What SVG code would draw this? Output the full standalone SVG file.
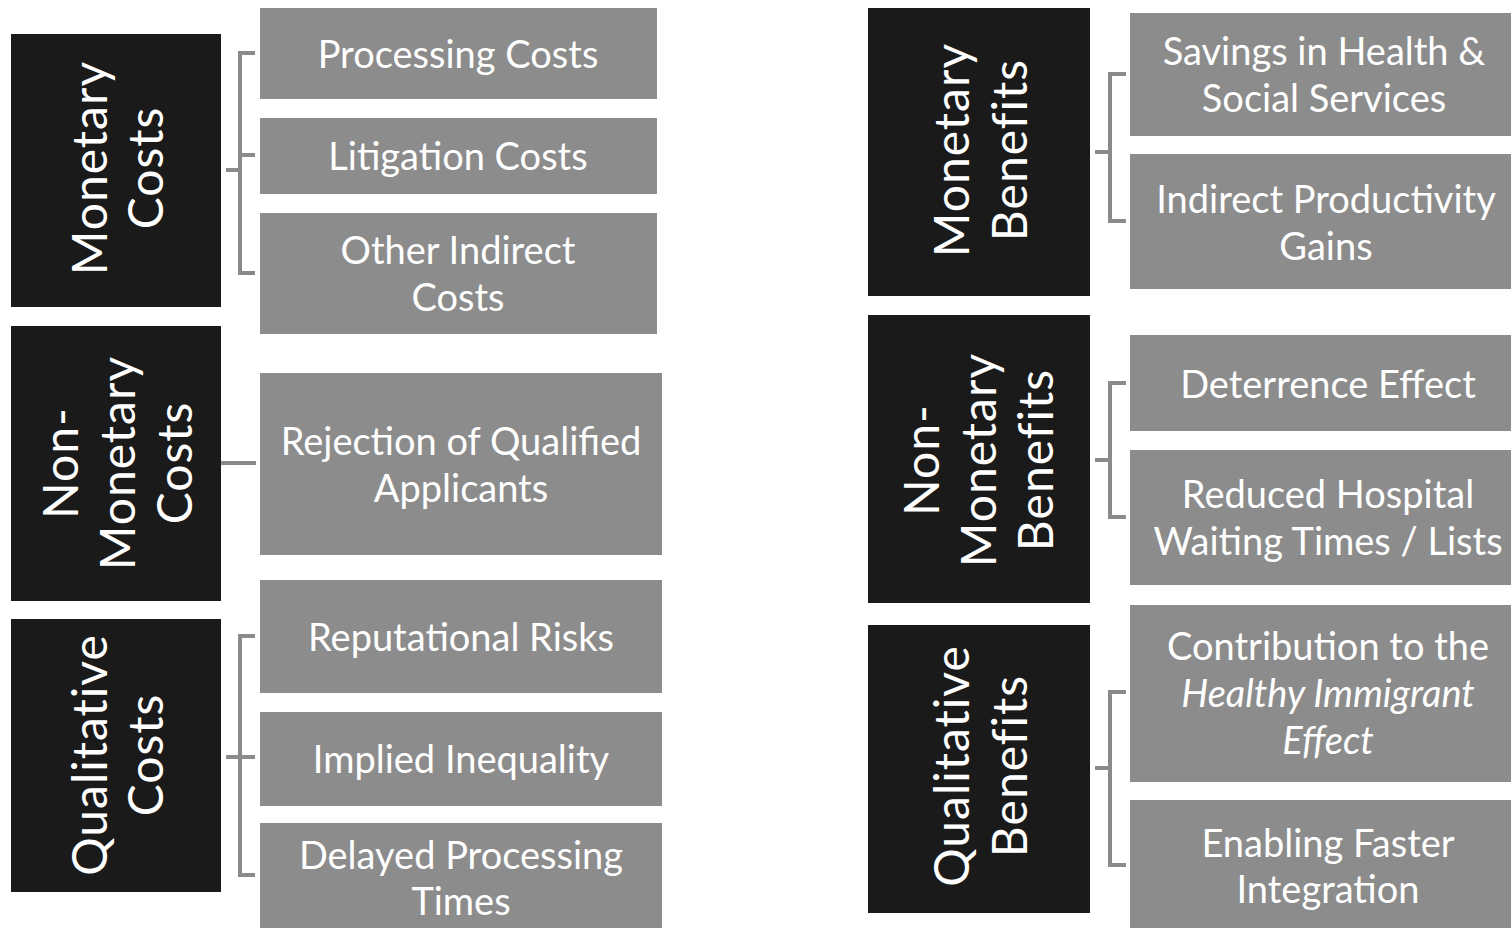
<svg xmlns="http://www.w3.org/2000/svg" width="1511" height="928" viewBox="0 0 1511 928">
  <style>
    .cat { fill: #1a1a1a; }
    .item { fill: #8c8c8c; }
    .cat-t { fill: #ffffff; font-family: Lato, "Open Sans", sans-serif; font-size: 48px; letter-spacing: 1px; text-anchor: middle; dominant-baseline: central; }
    .item-t { fill: #ffffff; font-family: Lato, "Open Sans", sans-serif; font-size: 38px; text-anchor: middle; dominant-baseline: central; }
    .link { fill: none; stroke: #8a8a8a; stroke-width: 4; }
    .it { font-style: italic; }
  </style>

  <!-- connectors -->
  <g id="connectors">
    <path class="link" d="M255,53 H240 V273 H255 M240,155 H255 M226,170 H240"/>
    <path class="link" d="M221,463 H256"/>
    <path class="link" d="M255,636 H240 V875 H255 M226,757 H255"/>
    <path class="link" d="M1126,74 H1110 V221 H1126 M1095,152 H1110"/>
    <path class="link" d="M1126,383 H1110 V517 H1126 M1095,460 H1110"/>
    <path class="link" d="M1126,692 H1110 V865 H1126 M1095,768 H1110"/>
  </g>

  <!-- cost categories -->
  <g id="monetary-costs">
    <rect class="cat" x="11" y="34" width="210" height="273"/>
    <text class="cat-t" transform="translate(116,168) rotate(-90)"><tspan x="0" y="-28">Monetary</tspan><tspan x="0" y="28">Costs</tspan></text>
  </g>
  <g id="non-monetary-costs">
    <rect class="cat" x="11" y="326" width="210" height="275"/>
    <text class="cat-t" transform="translate(116,463) rotate(-90)"><tspan x="0" y="-57">Non-</tspan><tspan x="0" y="0">Monetary</tspan><tspan x="0" y="57">Costs</tspan></text>
  </g>
  <g id="qualitative-costs">
    <rect class="cat" x="11" y="619" width="210" height="273"/>
    <text class="cat-t" transform="translate(116,755) rotate(-90)"><tspan x="0" y="-28">Qualitative</tspan><tspan x="0" y="28">Costs</tspan></text>
  </g>

  <!-- cost items -->
  <g id="processing-costs">
    <rect class="item" x="260" y="8" width="397" height="91"/>
    <text class="item-t" x="458" y="53">Processing Costs</text>
  </g>
  <g id="litigation-costs">
    <rect class="item" x="260" y="118" width="397" height="76"/>
    <text class="item-t" x="458" y="155">Litigation Costs</text>
  </g>
  <g id="other-indirect-costs">
    <rect class="item" x="260" y="213" width="397" height="121"/>
    <text class="item-t" x="458"><tspan x="458" y="249">Other Indirect</tspan><tspan x="458" y="296">Costs</tspan></text>
  </g>
  <g id="rejection">
    <rect class="item" x="260" y="373" width="402" height="182"/>
    <text class="item-t"><tspan x="461" y="440">Rejection of Qualified</tspan><tspan x="461" y="487">Applicants</tspan></text>
  </g>
  <g id="reputational-risks">
    <rect class="item" x="260" y="580" width="402" height="113"/>
    <text class="item-t" x="461" y="636">Reputational Risks</text>
  </g>
  <g id="implied-inequality">
    <rect class="item" x="260" y="712" width="402" height="94"/>
    <text class="item-t" x="461" y="758">Implied Inequality</text>
  </g>
  <g id="delayed-processing">
    <rect class="item" x="260" y="823" width="402" height="105"/>
    <text class="item-t"><tspan x="461" y="854">Delayed Processing</tspan><tspan x="461" y="900">Times</tspan></text>
  </g>

  <!-- benefit categories -->
  <g id="monetary-benefits">
    <rect class="cat" x="868" y="8" width="222" height="288"/>
    <text class="cat-t" transform="translate(979,150) rotate(-90)"><tspan x="0" y="-29">Monetary</tspan><tspan x="0" y="29">Benefits</tspan></text>
  </g>
  <g id="non-monetary-benefits">
    <rect class="cat" x="868" y="315" width="222" height="288"/>
    <text class="cat-t" transform="translate(977,460) rotate(-90)"><tspan x="0" y="-57">Non-</tspan><tspan x="0" y="0">Monetary</tspan><tspan x="0" y="57">Benefits</tspan></text>
  </g>
  <g id="qualitative-benefits">
    <rect class="cat" x="868" y="625" width="222" height="288"/>
    <text class="cat-t" transform="translate(979,766) rotate(-90)"><tspan x="0" y="-29">Qualitative</tspan><tspan x="0" y="29">Benefits</tspan></text>
  </g>

  <!-- benefit items -->
  <g id="savings">
    <rect class="item" x="1130" y="13" width="381" height="123"/>
    <text class="item-t"><tspan x="1324" y="50">Savings in Health &amp;</tspan><tspan x="1324" y="97">Social Services</tspan></text>
  </g>
  <g id="productivity">
    <rect class="item" x="1130" y="154" width="381" height="135"/>
    <text class="item-t"><tspan x="1326" y="198">Indirect Productivity</tspan><tspan x="1326" y="245">Gains</tspan></text>
  </g>
  <g id="deterrence">
    <rect class="item" x="1130" y="335" width="381" height="96"/>
    <text class="item-t" x="1328" y="383">Deterrence Effect</text>
  </g>
  <g id="waiting-times">
    <rect class="item" x="1130" y="450" width="381" height="135"/>
    <text class="item-t"><tspan x="1328" y="493">Reduced Hospital</tspan><tspan x="1328" y="540">Waiting Times / Lists</tspan></text>
  </g>
  <g id="healthy-immigrant">
    <rect class="item" x="1130" y="605" width="381" height="177"/>
    <text class="item-t"><tspan x="1328" y="645">Contribution to the</tspan><tspan class="it" x="1328" y="692">Healthy Immigrant</tspan><tspan class="it" x="1328" y="739">Effect</tspan></text>
  </g>
  <g id="integration">
    <rect class="item" x="1130" y="800" width="381" height="128"/>
    <text class="item-t"><tspan x="1328" y="842">Enabling Faster</tspan><tspan x="1328" y="888">Integration</tspan></text>
  </g>
</svg>
